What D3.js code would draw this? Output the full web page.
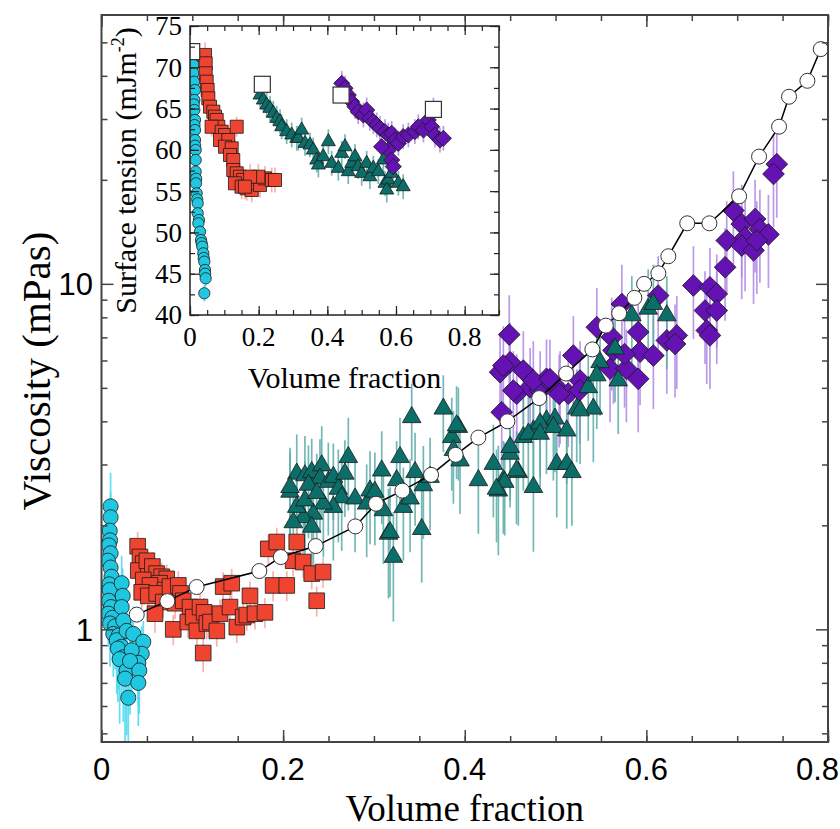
<!DOCTYPE html>
<html>
<head>
<meta charset="utf-8">
<script src="https://cdn.jsdelivr.net/npm/d3@7"></script>
<style>
  body { margin: 0; background: #fff; }
  svg { display: block; }
  .tick-sans { font-family: "Liberation Sans", Arial, sans-serif; }
  .serif { font-family: "Liberation Serif", "Times New Roman", serif; }
</style>
</head>
<body>
<svg id="chart" width="840" height="829"></svg>
<script>
// ---- main panel data: [volume fraction, viscosity (mPas), relative error]
const cyanMain = [
  [0.010, 2.27, 0.25], [0.010, 2.11, 0.18], [0.009, 1.93, 0.2], [0.0094, 1.81, 0.18],
  [0.008, 1.75, 0.15], [0.010, 1.66, 0.2], [0.007, 1.58, 0.15], [0.010, 1.51, 0.2],
  [0.011, 1.42, 0.2], [0.0085, 1.35, 0.2], [0.009, 1.30, 0.2], [0.008, 1.21, 0.2],
  [0.0105, 1.16, 0.22], [0.0075, 1.11, 0.2], [0.012, 1.08, 0.25], [0.0094, 1.04, 0.25],
  [0.015, 1.02, 0.25], [0.013, 0.97, 0.25], [0.019, 0.96, 0.3], [0.0167, 0.93, 0.3],
  [0.022, 0.89, 0.3], [0.018, 0.88, 0.3], [0.024, 0.83, 0.35], [0.020, 0.82, 0.35],
  [0.0277, 0.76, 0.35], [0.026, 0.72, 0.35], [0.0222, 1.36, 0.2], [0.0233, 1.25, 0.2],
  [0.0222, 1.16, 0.2], [0.024, 1.06, 0.25], [0.0277, 0.99, 0.25], [0.035, 0.97, 0.2],
  [0.046, 0.92, 0.15], [0.0443, 0.85, 0.2], [0.0333, 0.87, 0.25], [0.0405, 0.80, 0.25],
  [0.0314, 0.81, 0.3], [0.0416, 0.76, 0.25], [0.0405, 0.70, 0.25], [0.0295, 0.634, 0.35]
];
const redMain = [
  [0.0398, 1.74, 0.1], [0.0424, 1.62, 0.1], [0.046, 1.55, 0.08], [0.0405, 1.48, 0.1],
  [0.0515, 1.50, 0.1], [0.050, 1.58, 0.08], [0.056, 1.52, 0.1], [0.0608, 1.45, 0.1],
  [0.0663, 1.42, 0.1], [0.0718, 1.40, 0.1], [0.046, 1.39, 0.1], [0.064, 1.36, 0.08],
  [0.0534, 1.34, 0.1], [0.070, 1.30, 0.1], [0.0443, 1.28, 0.1], [0.0515, 1.25, 0.1],
  [0.0608, 1.27, 0.1], [0.068, 1.20, 0.1], [0.0589, 1.11, 0.12], [0.0754, 1.33, 0.1],
  [0.0846, 1.34, 0.1], [0.087, 1.27, 0.1], [0.081, 1.19, 0.1], [0.079, 1.00, 0.1],
  [0.090, 1.21, 0.1], [0.0975, 1.16, 0.1], [0.095, 1.05, 0.1], [0.101, 1.085, 0.1],
  [0.105, 0.99, 0.1], [0.112, 0.854, 0.12], [0.1085, 1.16, 0.1], [0.113, 1.12, 0.1],
  [0.116, 1.04, 0.1], [0.120, 1.05, 0.1], [0.127, 0.99, 0.1], [0.1305, 1.11, 0.1],
  [0.134, 1.33, 0.1], [0.1434, 1.36, 0.1], [0.1415, 1.16, 0.1], [0.149, 1.015, 0.1],
  [0.156, 1.085, 0.1], [0.160, 1.10, 0.1], [0.1635, 1.25, 0.1], [0.169, 1.11, 0.1],
  [0.180, 1.12, 0.1], [0.189, 1.34, 0.1], [0.204, 1.34, 0.1], [0.1837, 1.71, 0.1],
  [0.193, 1.79, 0.1], [0.215, 1.79, 0.1], [0.211, 1.58, 0.1], [0.222, 1.566, 0.1],
  [0.2315, 1.45, 0.1], [0.244, 1.465, 0.1], [0.237, 1.21, 0.1]
];
const tealMain = [
  [0.2076, 2.50, 0.3], [0.215, 2.82, 0.3], [0.224, 2.79, 0.3], [0.2315, 2.85, 0.25],
  [0.2425, 2.98, 0.3], [0.2406, 2.73, 0.3], [0.2498, 2.67, 0.3], [0.2553, 2.76, 0.25],
  [0.2608, 2.55, 0.3], [0.268, 2.82, 0.25], [0.2718, 3.15, 0.3], [0.2645, 2.41, 0.3],
  [0.2553, 2.26, 0.3], [0.2443, 2.31, 0.3], [0.2333, 2.16, 0.3], [0.2223, 2.11, 0.25],
  [0.215, 2.26, 0.3], [0.224, 2.36, 0.3], [0.2315, 1.98, 0.3], [0.2112, 2.04, 0.25],
  [0.2076, 2.58, 0.3], [0.2279, 2.62, 0.3], [0.2370, 2.48, 0.3], [0.2792, 2.39, 0.3],
  [0.292, 2.31, 0.3], [0.2957, 2.52, 0.3], [0.3086, 2.88, 0.3], [0.301, 2.50, 0.3],
  [0.3104, 2.21, 0.3], [0.316, 1.89, 0.35], [0.3214, 1.62, 0.35], [0.3287, 3.15, 0.3],
  [0.325, 2.70, 0.3], [0.3324, 2.26, 0.3], [0.3398, 2.39, 0.3], [0.3416, 4.11, 0.25],
  [0.3453, 2.85, 0.3], [0.3526, 1.95, 0.3], [0.3544, 2.61, 0.3], [0.3618, 2.76, 0.3],
  [0.3764, 4.35, 0.25], [0.3857, 3.60, 0.3], [0.393, 3.85, 0.3], [0.3875, 3.30, 0.3],
  [0.3948, 3.08, 0.3], [0.391, 3.89, 0.3], [0.3177, 1.91, 0.35], [0.415, 2.70, 0.3],
  [0.4315, 3.01, 0.3], [0.4425, 2.70, 0.3], [0.437, 2.52, 0.35], [0.4499, 3.22, 0.3],
  [0.459, 2.85, 0.3], [0.4756, 2.58, 0.35], [0.4645, 3.60, 0.3], [0.4756, 3.76, 0.3],
  [0.490, 4.02, 0.3], [0.4994, 4.07, 0.3], [0.5013, 3.01, 0.3], [0.5123, 3.01, 0.35],
  [0.45, 3.37, 0.3], [0.444, 2.67, 0.3], [0.435, 2.55, 0.3], [0.518, 2.85, 0.3],
  [0.457, 2.88, 0.3], [0.470, 3.68, 0.3], [0.483, 3.94, 0.3], [0.483, 3.68, 0.3],
  [0.4976, 3.85, 0.3], [0.5123, 3.76, 0.3], [0.5233, 4.35, 0.3], [0.5416, 4.35, 0.3],
  [0.527, 4.30, 0.3], [0.536, 5.02, 0.3], [0.549, 5.93, 0.3], [0.5454, 5.43, 0.3],
  [0.5655, 6.49, 0.3], [0.569, 5.25, 0.3], [0.584, 8.10, 0.3], [0.602, 8.47, 0.3],
  [0.6077, 8.74, 0.3], [0.6225, 8.10, 0.3]
];
const purpleMain = [
  [0.449, 7.13, 0.3], [0.4389, 5.55, 0.3], [0.45, 5.93, 0.3], [0.4645, 5.61, 0.3],
  [0.4573, 4.81, 0.3], [0.472, 5.02, 0.3], [0.483, 4.91, 0.3], [0.490, 5.31, 0.3],
  [0.4407, 4.25, 0.3], [0.505, 4.91, 0.3], [0.5196, 6.20, 0.3], [0.527, 5.25, 0.3],
  [0.514, 4.81, 0.3], [0.5454, 7.49, 0.3], [0.5619, 7.01, 0.3], [0.573, 8.74, 0.3],
  [0.591, 7.25, 0.3], [0.613, 9.25, 0.3], [0.560, 5.68, 0.3], [0.578, 5.68, 0.3],
  [0.5637, 6.42, 0.3], [0.593, 6.36, 0.3], [0.6077, 6.20, 0.3], [0.591, 5.31, 0.3],
  [0.6225, 6.86, 0.3], [0.6335, 7.09, 0.3], [0.6316, 6.70, 0.3], [0.6518, 9.89, 0.3],
  [0.670, 9.77, 0.3], [0.6775, 9.35, 0.3], [0.6646, 8.37, 0.3], [0.6775, 8.37, 0.3],
  [0.6665, 7.33, 0.3], [0.670, 7.09, 0.3], [0.6867, 11.17, 0.3], [0.6885, 13.35, 0.3],
  [0.6958, 16.3, 0.3], [0.705, 14.9, 0.3], [0.7087, 13.6, 0.3], [0.7197, 15.4, 0.3],
  [0.725, 14.4, 0.3], [0.7344, 13.9, 0.3], [0.705, 12.9, 0.3], [0.718, 12.5, 0.3],
  [0.7216, 13.35, 0.3], [0.7436, 22.2, 0.3], [0.740, 20.8, 0.3], [0.4535, 4.91, 0.3],
  [0.4755, 5.25, 0.3], [0.4938, 5.30, 0.3], [0.504, 4.80, 0.3], [0.4425, 5.80, 0.3],
  [0.5265, 4.92, 0.3], [0.576, 6.26, 0.3]
];
// reference curve (open circles joined by a line)
const refMain = [
  [0.0388, 1.103], [0.0725, 1.207], [0.1048, 1.326], [0.1738, 1.475], [0.1974, 1.619],
  [0.2359, 1.742], [0.2795, 1.986], [0.3023, 2.31], [0.3313, 2.52], [0.3629, 2.80],
  [0.390, 3.20], [0.415, 3.59], [0.447, 4.00], [0.482, 4.67], [0.5116, 5.50],
  [0.5405, 6.46], [0.5553, 7.57], [0.570, 8.22], [0.5868, 9.11], [0.5975, 10.0],
  [0.6132, 10.73], [0.6242, 12.02], [0.645, 14.97], [0.6694, 14.97], [0.7021, 17.92],
  [0.7241, 23.35], [0.7461, 28.5], [0.7571, 34.8], [0.7773, 38.7], [0.792, 47.8]
];

// ---- inset data: [volume fraction, surface tension (mJ/m2), error]
const cyanInset = [
  [0.008, 71.0, 1.2], [0.0097, 70.28, 1.2], [0.0097, 69.27, 1.2], [0.0117, 68.26, 1.0],
  [0.0146, 67.25, 1.0], [0.0126, 66.04, 1.0], [0.011, 65.5, 1.0], [0.0126, 64.83, 1.0],
  [0.0146, 63.62, 1.0], [0.013, 63.0, 1.0], [0.0146, 62.4, 1.0], [0.0146, 61.19, 1.0],
  [0.015, 60.5, 1.0], [0.0165, 59.98, 1.0], [0.0165, 58.77, 1.0], [0.0165, 57.36, 1.0],
  [0.018, 56.5, 1.0], [0.0175, 55.95, 1.0], [0.0194, 54.74, 1.0], [0.021, 54.0, 1.0],
  [0.0224, 53.53, 1.0], [0.0224, 52.32, 1.0], [0.026, 51.5, 1.0], [0.0243, 51.1, 1.0],
  [0.0291, 50.09, 1.0], [0.0320, 49.08, 1.0], [0.034, 48.7, 1.0], [0.0359, 48.27, 1.0],
  [0.0388, 47.47, 1.0], [0.040, 46.9, 1.0], [0.0417, 46.46, 1.0], [0.0437, 45.45, 1.0],
  [0.044, 45.0, 1.0], [0.0456, 44.44, 1.0], [0.0417, 42.63, 1.0]
];
const redInset = [
  [0.0437, 71.49, 1.5], [0.0457, 70.48, 1.5], [0.0457, 69.27, 1.2], [0.0486, 68.26, 1.2],
  [0.0515, 67.25, 1.2], [0.0534, 66.24, 1.2], [0.0583, 65.23, 1.2], [0.068, 64.62, 1.2],
  [0.0728, 64.02, 1.2], [0.0777, 63.62, 1.2], [0.0825, 62.8, 1.2], [0.063, 62.8, 1.2],
  [0.0922, 62.2, 1.2], [0.102, 61.8, 1.2], [0.0874, 61.19, 1.2], [0.1116, 61.19, 1.2],
  [0.102, 60.38, 1.2], [0.1214, 60.18, 1.2], [0.1165, 59.38, 1.2], [0.136, 62.8, 1.2],
  [0.126, 58.77, 1.2], [0.126, 57.56, 1.2], [0.136, 57.16, 1.2], [0.1456, 56.75, 1.2],
  [0.155, 56.35, 1.2], [0.131, 55.95, 1.2], [0.1505, 55.54, 1.5], [0.165, 55.34, 1.5],
  [0.18, 55.14, 1.5], [0.189, 55.95, 1.5], [0.204, 55.74, 1.5], [0.2185, 56.55, 1.5],
  [0.238, 56.35, 1.5], [0.2476, 56.35, 1.5], [0.199, 56.75, 1.5], [0.175, 56.75, 1.5],
  [0.16, 55.54, 1.5]
];
const tealInset = [
  [0.2039, 66.64, 1.5], [0.2136, 66.04, 1.5], [0.2233, 65.43, 1.5], [0.233, 65.03, 1.5],
  [0.2427, 64.43, 1.5], [0.2525, 63.82, 1.5], [0.2622, 63.41, 1.5], [0.267, 62.8, 1.5],
  [0.2816, 62.2, 1.5], [0.2962, 61.8, 1.5], [0.311, 61.4, 1.5], [0.3155, 61.4, 1.5],
  [0.3253, 62.4, 1.5], [0.335, 60.79, 1.5], [0.3495, 60.59, 1.5], [0.359, 59.98, 1.5],
  [0.369, 58.77, 1.5], [0.374, 58.17, 1.5], [0.388, 59.17, 1.5], [0.403, 60.99, 1.5],
  [0.4127, 58.37, 1.5], [0.432, 57.77, 1.5], [0.442, 59.58, 1.5], [0.4515, 60.38, 1.5],
  [0.461, 57.36, 1.5], [0.471, 58.37, 1.5], [0.4806, 59.17, 1.5], [0.49, 57.97, 1.5],
  [0.50, 57.16, 1.5], [0.5146, 58.37, 1.5], [0.524, 56.75, 1.5], [0.534, 57.77, 1.5],
  [0.5485, 57.36, 1.5], [0.563, 58.77, 1.5], [0.568, 55.95, 1.5], [0.5777, 56.35, 1.5],
  [0.5875, 57.16, 1.5], [0.607, 55.95, 1.5], [0.621, 55.54, 1.5], [0.573, 55.14, 1.5]
];
const purpleInset = [
  [0.442, 68.06, 1.5], [0.4515, 67.46, 1.5], [0.461, 66.64, 1.5], [0.471, 65.83, 1.5],
  [0.4806, 65.23, 1.5], [0.49, 64.62, 1.5], [0.505, 64.22, 1.5], [0.5146, 64.83, 1.5],
  [0.524, 63.82, 1.5], [0.534, 63.41, 1.5], [0.544, 63.01, 1.5], [0.5534, 62.61, 1.5],
  [0.568, 62.2, 1.5], [0.5777, 61.8, 1.5], [0.5875, 62.0, 1.5], [0.597, 61.19, 1.5],
  [0.607, 60.79, 1.5], [0.621, 61.6, 1.5], [0.636, 61.8, 1.5], [0.655, 62.2, 1.5],
  [0.665, 62.8, 1.5], [0.68, 62.4, 1.5], [0.694, 63.62, 1.5], [0.704, 62.8, 1.5],
  [0.7137, 61.8, 1.5], [0.728, 61.19, 1.5], [0.738, 61.4, 1.5], [0.5777, 59.98, 1.5],
  [0.5875, 58.77, 1.5], [0.592, 57.97, 1.5], [0.558, 60.38, 1.5], [0.709, 64.83, 1.5]
];
const refInset = [[0.005, 71.9], [0.2106, 67.94], [0.44, 66.64], [0.709, 64.9]];

// ---- ticks
const mainXMajor = [0, 0.2, 0.4, 0.6, 0.8];
const mainXLabels = ["0", "0.2", "0.4", "0.6", "0.8"];
const mainXMinor = d3.range(0, 0.801, 0.05);
const mainYMajor = [1, 10];
const mainYLabels = ["1", "10"];
const mainYMinor = [0.5, 0.6, 0.7, 0.8, 0.9, 2, 3, 4, 5, 6, 7, 8, 9, 20, 30, 40, 50];
const insetXMajor = [0, 0.2, 0.4, 0.6, 0.8];
const insetXLabels = ["0", "0.2", "0.4", "0.6", "0.8"];
const insetXMinor = d3.range(0, 0.901, 0.05);
const insetYMajor = [40, 45, 50, 55, 60, 65, 70, 75];
const insetYMinor = d3.range(40, 75.1, 2.5);

const colors = {
  cyan: "#1fc8e0", cyanErr: "#45d8f0",
  red: "#ee4430", redErr: "#f6a4a0",
  teal: "#0b6e69", tealErr: "#5aaca8",
  purple: "#6512b4", purpleErr: "#b088e6"
};

const svg = d3.select("#chart");

// ---------------- main panel ----------------
const M = {left: 101.5, right: 828, top: 15, bottom: 742};
const x = d3.scaleLinear().domain([0, 0.8]).range([M.left, M.right]);
const y = d3.scaleLog().domain([0.472, 60]).range([M.bottom, M.top]);

svg.append("clipPath").attr("id", "main-clip")
  .append("rect").attr("x", M.left).attr("y", M.top)
  .attr("width", M.right - M.left).attr("height", M.bottom - M.top);

const plot = svg.append("g").attr("clip-path", "url(#main-clip)");

function errBars(g, data, xs, ys, color, logRel) {
  g.append("g").selectAll("line").data(data).join("line")
    .attr("x1", d => xs(d[0])).attr("x2", d => xs(d[0]))
    .attr("y1", d => logRel ? ys(d[1] * (1 + d[2])) : ys(d[1] + d[2]))
    .attr("y2", d => logRel ? ys(Math.max(d[1] * (1 - d[2]), 0.3)) : ys(d[1] - d[2]))
    .attr("stroke", color).attr("stroke-width", 1.7).attr("stroke-opacity", 0.85);
}

function marks(g, data, xs, ys, type, size, fill, rot) {
  const sym = d3.symbol().type(type).size(size);
  g.append("g").selectAll("path").data(data).join("path")
    .attr("d", sym)
    .attr("transform", d => "translate(" + xs(d[0]) + "," + ys(d[1]) + ")" + (rot ? " rotate(" + rot + ")" : ""))
    .attr("fill", fill).attr("stroke", "#1a1a1a").attr("stroke-width", 0.8);
}

errBars(plot, purpleMain, x, y, colors.purpleErr, true);
errBars(plot, tealMain, x, y, colors.tealErr, true);
errBars(plot, redMain, x, y, colors.redErr, true);
errBars(plot, cyanMain, x, y, colors.cyanErr, true);

marks(plot, purpleMain, x, y, d3.symbolSquare, 235, colors.purple, 45);
marks(plot, tealMain, x, y, d3.symbolTriangle, 150, colors.teal);
marks(plot, redMain, x, y, d3.symbolSquare, 245, colors.red);
marks(plot, cyanMain, x, y, d3.symbolCircle, 180, colors.cyan);

plot.append("path").datum(refMain)
  .attr("d", d3.line().x(d => x(d[0])).y(d => y(d[1])))
  .attr("fill", "none").attr("stroke", "#000").attr("stroke-width", 1.5);
plot.append("g").selectAll("circle").data(refMain).join("circle")
  .attr("cx", d => x(d[0])).attr("cy", d => y(d[1])).attr("r", 7.5)
  .attr("fill", "#fff").attr("stroke", "#333").attr("stroke-width", 1);

// main axes (ticks inward on all four sides)
function tickAxis(axisFn, scale, vals, size, tr) {
  const g = svg.append("g").attr("transform", tr)
    .call(axisFn(scale).tickValues(vals).tickSize(size).tickFormat(""));
  g.select(".domain").remove();
  g.selectAll("line").attr("stroke", "#444").attr("stroke-width", 1.5);
  return g;
}
tickAxis(d3.axisBottom, x, mainXMinor, -6, "translate(0," + M.bottom + ")");
tickAxis(d3.axisBottom, x, mainXMajor, -12, "translate(0," + M.bottom + ")");
tickAxis(d3.axisTop, x, mainXMinor, -6, "translate(0," + M.top + ")");
tickAxis(d3.axisTop, x, mainXMajor, -12, "translate(0," + M.top + ")");
tickAxis(d3.axisLeft, y, mainYMinor, -6, "translate(" + M.left + ",0)");
tickAxis(d3.axisLeft, y, mainYMajor, -12, "translate(" + M.left + ",0)");
tickAxis(d3.axisRight, y, mainYMinor, -6, "translate(" + M.right + ",0)");
tickAxis(d3.axisRight, y, mainYMajor, -12, "translate(" + M.right + ",0)");

svg.append("rect").attr("x", M.left).attr("y", M.top)
  .attr("width", M.right - M.left).attr("height", M.bottom - M.top)
  .attr("fill", "none").attr("stroke", "#444").attr("stroke-width", 2);

svg.append("g").selectAll("text").data(mainXMajor).join("text")
  .attr("class", "tick-sans")
  .attr("x", (d, i) => i === mainXMajor.length - 1 ? 839 : x(d))
  .attr("y", 780)
  .attr("text-anchor", (d, i) => i === mainXMajor.length - 1 ? "end" : "middle")
  .attr("font-size", 31)
  .text((d, i) => mainXLabels[i]);
svg.append("g").selectAll("text").data(mainYMajor).join("text")
  .attr("class", "tick-sans").attr("x", 93).attr("y", d => y(d)).attr("dy", "0.36em")
  .attr("text-anchor", "end").attr("font-size", 31)
  .text((d, i) => mainYLabels[i]);

svg.append("text").attr("class", "serif")
  .attr("x", (M.left + M.right) / 2).attr("y", 821)
  .attr("text-anchor", "middle").attr("font-size", 37)
  .text("Volume fraction");
svg.append("text").attr("class", "serif")
  .attr("transform", "translate(50,371) rotate(-90)")
  .attr("text-anchor", "middle").attr("font-size", 41)
  .text("Viscosity (mPas)");

// ---------------- inset panel ----------------
const I = {left: 190, right: 499, top: 26, bottom: 315};
const ix = d3.scaleLinear().domain([0, 0.9]).range([I.left, I.right]);
const iy = d3.scaleLinear().domain([40, 75]).range([I.bottom, I.top]);

svg.append("rect").attr("x", I.left).attr("y", I.top)
  .attr("width", I.right - I.left).attr("height", I.bottom - I.top)
  .attr("fill", "#fff");

svg.append("clipPath").attr("id", "inset-clip")
  .append("rect").attr("x", I.left).attr("y", I.top)
  .attr("width", I.right - I.left).attr("height", I.bottom - I.top);
const inset = svg.append("g").attr("clip-path", "url(#inset-clip)");

errBars(inset, cyanInset, ix, iy, colors.cyanErr, false);
errBars(inset, redInset, ix, iy, colors.redErr, false);
errBars(inset, tealInset, ix, iy, colors.tealErr, false);
errBars(inset, purpleInset, ix, iy, colors.purpleErr, false);

marks(inset, cyanInset, ix, iy, d3.symbolCircle, 100, colors.cyan);
marks(inset, redInset, ix, iy, d3.symbolSquare, 170, colors.red);
marks(inset, tealInset, ix, iy, d3.symbolTriangle, 85, colors.teal);
marks(inset, purpleInset, ix, iy, d3.symbolSquare, 130, colors.purple, 45);
inset.append("g").selectAll("rect").data(refInset).join("rect")
  .attr("x", d => ix(d[0]) - 8).attr("y", d => iy(d[1]) - 8)
  .attr("width", 16).attr("height", 16)
  .attr("fill", "#fff").attr("stroke", "#333").attr("stroke-width", 1.2);

function insetTicks(axisFn, scale, vals, size, tr) {
  const g = svg.append("g").attr("transform", tr)
    .call(axisFn(scale).tickValues(vals).tickSize(size).tickFormat(""));
  g.select(".domain").remove();
  g.selectAll("line").attr("stroke", "#222").attr("stroke-width", 1.2);
}
insetTicks(d3.axisBottom, ix, insetXMinor, -5, "translate(0," + I.bottom + ")");
insetTicks(d3.axisBottom, ix, insetXMajor, -9, "translate(0," + I.bottom + ")");
insetTicks(d3.axisTop, ix, insetXMinor, -5, "translate(0," + I.top + ")");
insetTicks(d3.axisTop, ix, insetXMajor, -9, "translate(0," + I.top + ")");
insetTicks(d3.axisLeft, iy, insetYMinor, -5, "translate(" + I.left + ",0)");
insetTicks(d3.axisLeft, iy, insetYMajor, -9, "translate(" + I.left + ",0)");
insetTicks(d3.axisRight, iy, insetYMinor, -5, "translate(" + I.right + ",0)");
insetTicks(d3.axisRight, iy, insetYMajor, -9, "translate(" + I.right + ",0)");

svg.append("rect").attr("x", I.left).attr("y", I.top)
  .attr("width", I.right - I.left).attr("height", I.bottom - I.top)
  .attr("fill", "none").attr("stroke", "#222").attr("stroke-width", 1.5);

svg.append("g").selectAll("text").data(insetXMajor).join("text")
  .attr("class", "serif").attr("x", d => ix(d)).attr("y", 346)
  .attr("text-anchor", "middle").attr("font-size", 27)
  .text((d, i) => insetXLabels[i]);
svg.append("g").selectAll("text").data(insetYMajor).join("text")
  .attr("class", "serif").attr("x", 182).attr("y", d => iy(d)).attr("dy", "0.35em")
  .attr("text-anchor", "end").attr("font-size", 27)
  .text(d => d);

svg.append("text").attr("class", "serif")
  .attr("x", (I.left + I.right) / 2).attr("y", 388)
  .attr("text-anchor", "middle").attr("font-size", 30)
  .text("Volume fraction");
const yt = svg.append("text").attr("class", "serif")
  .attr("transform", "translate(136," + ((I.top + I.bottom) / 2) + ") rotate(-90)")
  .attr("text-anchor", "middle").attr("font-size", 30);
yt.append("tspan").text("Surface tension (mJm");
yt.append("tspan").attr("font-size", 18).attr("dy", -12).text("-2");
yt.append("tspan").attr("dy", 12).text(")");
</script>
</body>
</html>
